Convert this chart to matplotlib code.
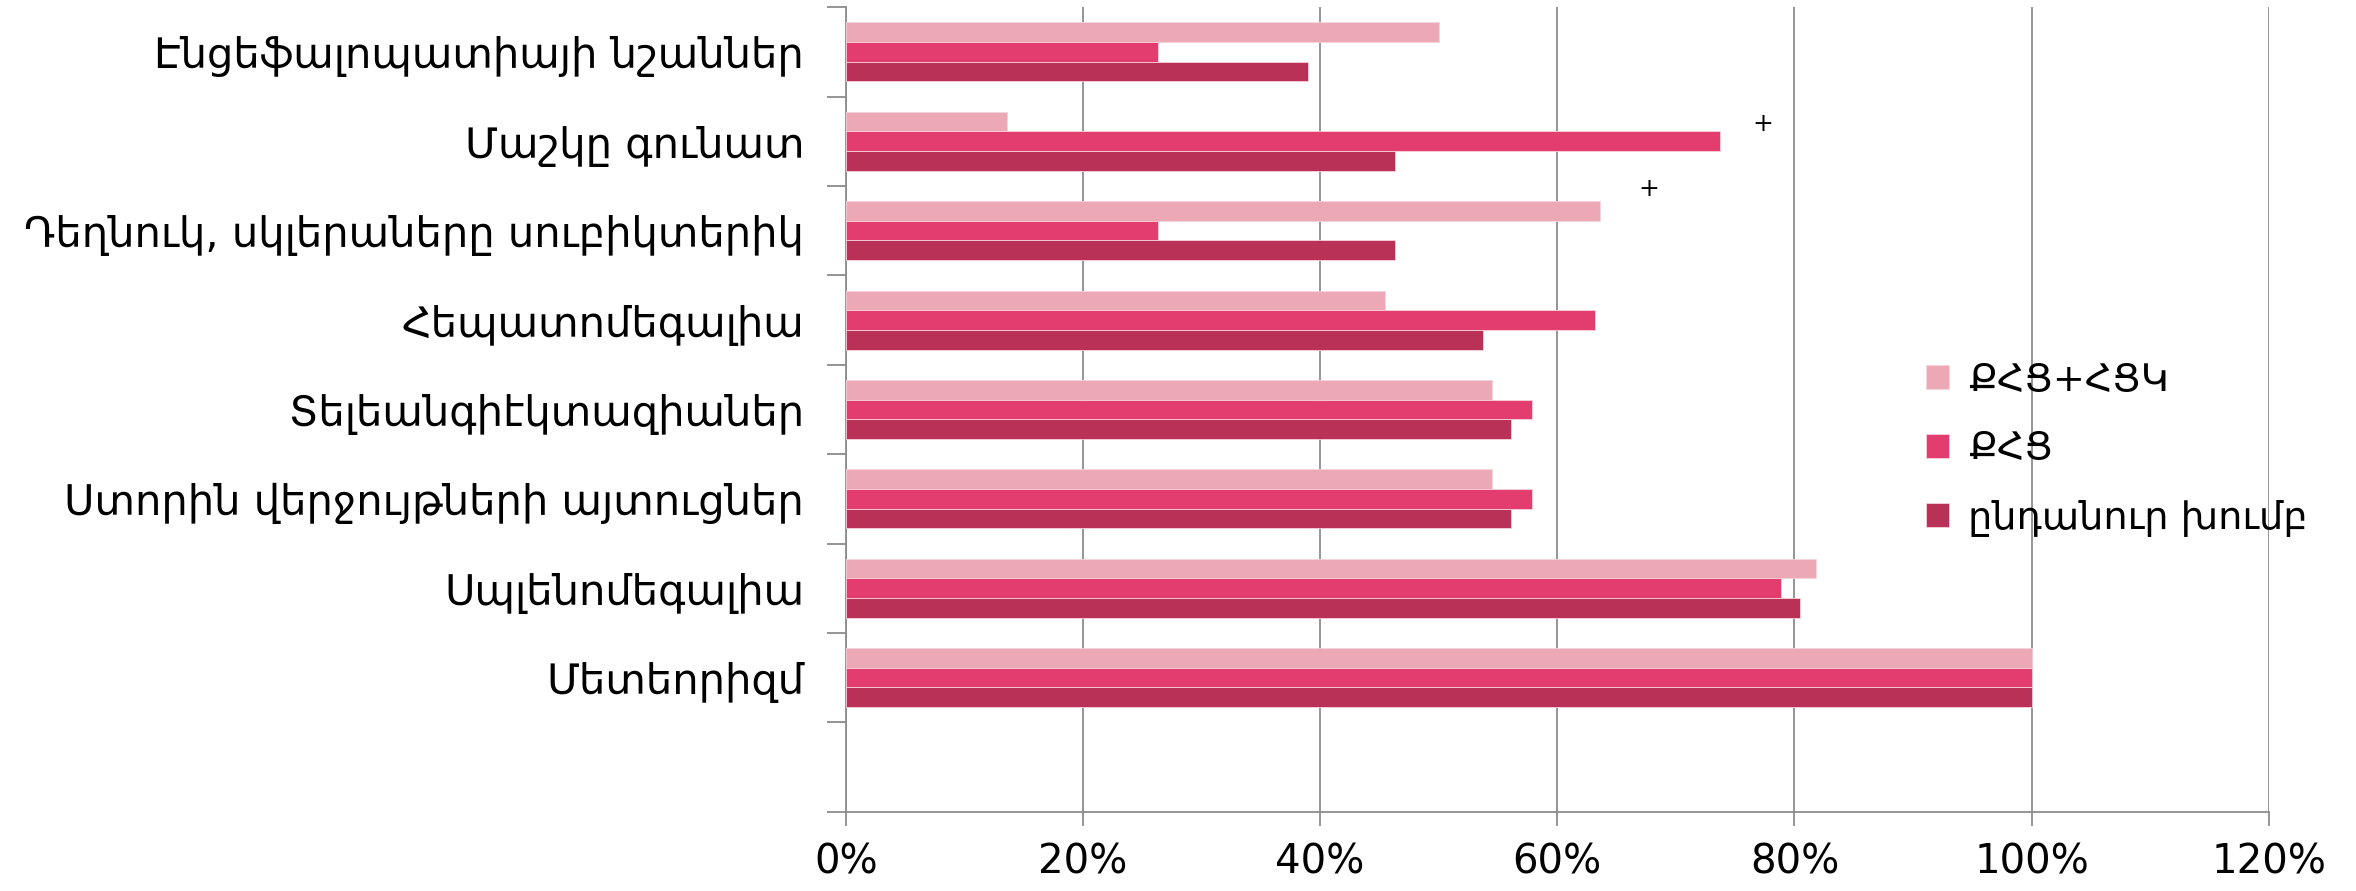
import numpy as np
import matplotlib.pyplot as plt
from matplotlib.ticker import FuncFormatter, MultipleLocator

# տվյալներ՝ վերևից ներքև
categories = ["Էնցեֆալոպատիայի նշաններ",
              "Մաշկը գունատ",
              "Դեղնուկ, սկլերաները սուբիկտերիկ",
              "Հեպատոմեգալիա",
              "Տելեանգիէկտազիաներ",
              "Ստորին վերջույթների այտուցներ",
              "Սպլենոմեգալիա",
              "Մետեորիզմ"]

series_names = ["ՔՀՑ+ՀՑԿ", "ՔՀՑ", "ընդանուր խումբ"]
khc_hck = [50.0, 13.6, 63.6, 45.5, 54.5, 54.5, 81.8, 100.0]
khc = [26.3, 73.7, 26.3, 63.2, 57.9, 57.9, 78.9, 100.0]
total = [39.0, 46.3, 46.3, 53.7, 56.1, 56.1, 80.5, 100.0]
colors = ["#ECA8B5", "#E23D6E", "#BA3158"]

# "+" նշումներ (x %, y՝ կատեգորիայի առանցքով)
marks_x = [77.3, 67.7]
marks_y = [7.19, 6.46]

plt.rcParams['font.family'] = ['DejaVu Sans']

fig = plt.figure(figsize=(23.56, 8.91), dpi=100)
ax = fig.add_axes([0.359, 0.089, 0.604, 0.903])

n = len(categories)
# ներքևում մեկ դատարկ տող կա
y = np.arange(n, 0, -1)
h = 0.22
for k, vals in enumerate([khc_hck, khc, total]):
    ax.barh(y + h * (1 - k), vals, height=h, color=colors[k],
            edgecolor='#F6D3DB', linewidth=0.6, label=series_names[k], zorder=3)

for mx, my in zip(marks_x, marks_y):
    ax.text(mx, my, "+", ha='center', va='center', fontsize=18, color='black', zorder=4)

ax.set_xlim(0, 120)
ax.set_ylim(-0.5, n + 0.5)
ax.xaxis.set_major_locator(MultipleLocator(20))
ax.xaxis.set_major_formatter(FuncFormatter(lambda v, p: f"{v:.0f}%"))
ax.grid(axis='x', color='#8C8C8C', linewidth=1.3, zorder=0)

ax.set_yticks(y)
ax.set_yticklabels(categories, fontsize=30)
ax.set_yticks(np.arange(-0.5, n + 1), minor=True)
ax.tick_params(axis='y', which='major', length=0, pad=30)
ax.tick_params(axis='y', which='minor', length=14, width=1.3, color='#8C8C8C')
ax.tick_params(axis='x', length=10, width=1.3, color='#8C8C8C', labelsize=29, pad=12)

for s in ['top', 'right']:
    ax.spines[s].set_visible(False)
for s in ['left', 'bottom']:
    ax.spines[s].set_color('#8C8C8C')
    ax.spines[s].set_linewidth(1.3)

ax.legend(loc='center left', bbox_to_anchor=(0.735, 0.45), frameon=False,
          fontsize=27.5, handlelength=0.6, handleheight=0.6, labelspacing=0.85,
          handletextpad=0.5)

fig.savefig("out.png", dpi=100)
